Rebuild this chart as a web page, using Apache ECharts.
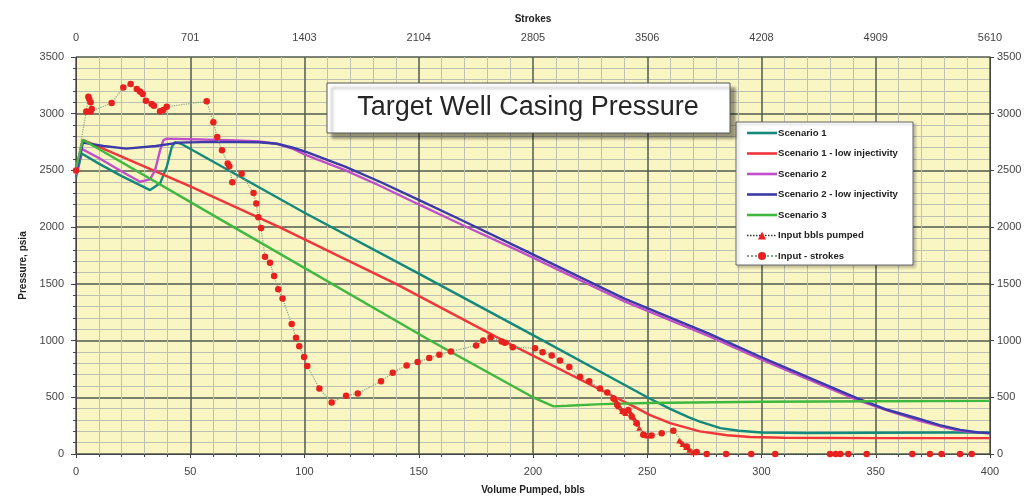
<!DOCTYPE html>
<html>
<head>
<meta charset="utf-8">
<script src="https://cdn.jsdelivr.net/npm/echarts@6/dist/echarts.min.js"></script>
<style>
html,body{margin:0;padding:0;background:#fff;}
#chart{width:1028px;height:500px;}
</style>
</head>
<body>
<div id="chart"></div>
<script>
// ---- data (x = volume pumped, bbls; y = pressure, psia) ----
const strokeTicks = [0, 701, 1403, 2104, 2805, 3506, 4208, 4909, 5610];

const scenario1 = [[0,2440],[2.5,2650],[10,2560],[20,2450],[28,2370],[32.4,2327],[36.8,2386],[39.7,2531],[41.9,2706],[43.3,2750],[46,2735],
  [100,2127],[150,1590],[200,1048],[250,500],[260,398],[268,325],[273,286],[282,228],[290,205],[300,190],[320,185],[350,188],[380,190],[400,190]];

const scenario1Low = [[0,2500],[3,2770],[50,2360],[89,2000],[140,1500],[187,1000],[236,500],[244,420],[251,345],[260,272],[273,200],[285,165],[295,150],[310,143],[350,140],[400,140]];

const scenario2 = [[0,2460],[2.5,2690],[10,2610],[20,2490],[28,2400],[32.4,2421],[34.6,2502],[36.8,2677],[38.2,2765],[39.5,2780],[50,2775],[70,2765],[80,2755],[88,2735],[95,2690],
  [101,2633],[118,2500],[133,2365],[150,2200],[170,2010],[194,1788],[240,1345],[277,1040],[299,840],[342,475],[355,385],[368,300],[378,245],[387,205],[395,188],[400,182]];

const scenario2Low = [[0,2480],[3,2745],[12,2715],[22,2692],[35,2715],[45,2745],[60,2752],[80,2748],[88,2735],[95,2700],
  [101,2662],[118,2531],[133,2400],[150,2240],[170,2050],[194,1817],[240,1370],[277,1062],[299,860],[342,490],[355,390],[368,315],[378,255],[387,213],[395,190],[400,184]];

const scenario3 = [[0,2520],[3,2770],[69,2000],[155,1000],[200,500],[209,420],[215,425],[230,440],[250,450],[300,460],[350,465],[400,468]];

const inputBbls = [[236,480],[237.5,420],[239,378],[240.5,362],[242,385],[243.5,330],[245,282],[246.5,232],[248,182],[250,162],null,
  [264,118],[265.5,88],[267,62],[268.5,38],[270,16]];

const inputStrokes = [[0,2500],[4.5,3020],[5.4,3150],[5.8,3130],[6.4,3100],[6.9,3042],[6.4,3020],[15.6,3094],[20.7,3231],[23.9,3261],[26.6,3217],[28,3196],[29.2,3173],
  [30.6,3115],[33.1,3086],[34.1,3071],[36.8,3021],[38.2,3033],[39.7,3062],[57.2,3109],[60.1,2925],[61.8,2794],[63.9,2677],[66.4,2560],[67.1,2537],[68.4,2395],
  [72.5,2470],[77.7,2300],[78.9,2208],[79.8,2088],[81,1992],[82.7,1738],[84.9,1686],[86.7,1569],[88.5,1452],[90.4,1371],[94.4,1146],[96.3,1025],[97.7,951],
  [99.8,855],[101.2,776],[106.5,577],[111.9,455],[118.2,513],[123.3,534],[133.5,641],[138.6,717],[144.7,781],[149.5,811],[154.6,846],[159,875],[164.1,904],
  [175.1,956],[178.2,1000],[181.5,1029],[186.3,991],[187.7,980],[191.1,942],[200.9,933],[204.2,898],[208.2,869],[211.8,825],[215.9,767],[220.6,680],
  [224.6,641],[229.3,577],[232.5,542],[235.2,490],[236.9,431],[239.5,374],[241.7,388],[243.2,330],[245.4,271],[248.3,169],[251.9,164],[256.3,184],[261.4,204],
  [267.3,67],[271.6,17],[276,0],[284.5,0],[295.5,0],[306,0],[330,0],[332.5,0],[334.5,0],[338,0],[346,0],[366,0],[373.7,0],[378.8,0],[386.9,0],[392,0]];

// ---- chart ----
const FONT = '"Liberation Sans", Arial, sans-serif';
const chart = echarts.init(document.getElementById('chart'), null, {renderer: 'canvas'});
const axisTxt = {color: '#444', fontSize: 11, fontFamily: FONT, formatter: v => String(v)};
const nameTxt = {color: '#222', fontSize: 10, fontWeight: 'bold', fontFamily: FONT};
const majorSplit = {show: true, lineStyle: {color: '#4f5a4f', width: 1.5}};
const minorSplit = {show: true, lineStyle: {color: '#bec1b0', width: 1}};
const LINE_ICON = 'path://M0,0L30,0L30,2.6L0,2.6Z';

function lineSeries(name, data, color) {
  return {name, type: 'line', data, xAxisIndex: 0, yAxisIndex: 0, symbol: 'none', showSymbol: false,
    lineStyle: {color, width: 2.4}, itemStyle: {color}, z: 3};
}

chart.setOption({
  animation: false,
  backgroundColor: '#ffffff',
  grid: {left: 76, right: 38, top: 57, bottom: 44, show: true, backgroundColor: '#faf6c4', borderWidth: 0},
  xAxis: [
    {type: 'value', position: 'bottom', min: 0, max: 400, interval: 50,
      name: 'Volume Pumped, bbls', nameLocation: 'middle', nameGap: 31, nameTextStyle: nameTxt,
      axisLine: {show: true, onZero: false, lineStyle: {color: '#444', width: 1}},
      axisTick: {show: true, length: 4, lineStyle: {color: '#444'}},
      minorTick: {show: true, splitNumber: 5, length: 3, lineStyle: {color: '#444'}},
      axisLabel: Object.assign({}, axisTxt, {margin: 12}),
      splitLine: majorSplit, minorSplitLine: minorSplit},
    {type: 'value', position: 'top', min: 0, max: 5610, interval: 701.25,
      name: 'Strokes', nameLocation: 'middle', nameGap: 33, nameTextStyle: nameTxt,
      axisLine: {show: true, lineStyle: {color: '#444', width: 1}},
      axisTick: {show: false},
      axisLabel: Object.assign({}, axisTxt, {margin: 14, formatter: (v, i) => String(strokeTicks[i] !== undefined ? strokeTicks[i] : Math.round(v))}),
      splitLine: {show: false}}
  ],
  yAxis: [
    {type: 'value', position: 'left', min: 0, max: 3500, interval: 500,
      name: 'Pressure, psia', nameLocation: 'middle', nameGap: 44, nameRotate: 90, nameTextStyle: Object.assign({padding: [0, 0, 0, -20]}, nameTxt),
      axisLine: {show: true, onZero: false, lineStyle: {color: '#444', width: 1}},
      axisTick: {show: true, length: 5, lineStyle: {color: '#444'}},
      minorTick: {show: true, splitNumber: 5, length: 3, lineStyle: {color: '#444'}},
      axisLabel: Object.assign({}, axisTxt, {margin: 12}),
      splitLine: majorSplit, minorSplitLine: minorSplit},
    {type: 'value', position: 'right', min: 0, max: 3500, interval: 500,
      axisLine: {show: true, onZero: false, lineStyle: {color: '#444', width: 1}},
      axisTick: {show: true, length: 4, lineStyle: {color: '#444'}},
      axisLabel: Object.assign({}, axisTxt, {margin: 7}),
      splitLine: {show: false}}
  ],
  legend: {
    orient: 'vertical', left: 746, top: 128, padding: 0, itemWidth: 30, itemHeight: 10, itemGap: 10.5,
    z: 20,
    textStyle: {fontSize: 9.6, fontWeight: 'bold', color: '#222', fontFamily: FONT, lineHeight: 10, padding: [0, 0, 0, -4]},
    data: [
      {name: 'Scenario 1', icon: LINE_ICON},
      {name: 'Scenario 1 - low injectivity', icon: LINE_ICON},
      {name: 'Scenario 2', icon: LINE_ICON},
      {name: 'Scenario 2 - low injectivity', icon: LINE_ICON},
      {name: 'Scenario 3', icon: LINE_ICON},
      {name: 'Input bbls pumped', lineStyle: {color: '#333', type: 'dotted', width: 1.5}},
      'Input - strokes'
    ]
  },
  graphic: [
    {type: 'rect', z: 15, shape: {x: 736, y: 122, width: 177, height: 143},
      style: {fill: '#ffffff', stroke: '#6a6a6a', lineWidth: 1, shadowBlur: 3, shadowOffsetX: 2, shadowOffsetY: 2, shadowColor: 'rgba(0,0,0,0.25)'}},
    {type: 'rect', z: 15, shape: {x: 327, y: 83, width: 403, height: 50},
      style: {fill: '#ffffff', stroke: '#555', lineWidth: 1, shadowBlur: 3, shadowOffsetX: 5, shadowOffsetY: 5, shadowColor: 'rgba(0,0,0,0.4)'}},
    {type: 'text', z: 16, x: 528, y: 108,
      style: {text: 'Target Well Casing Pressure', fill: '#262626', fontSize: 27, fontFamily: FONT, textAlign: 'center', textVerticalAlign: 'middle'}}
  ],
  series: [
    lineSeries('Scenario 1', scenario1, '#13897c'),
    lineSeries('Scenario 1 - low injectivity', scenario1Low, '#f0363a'),
    lineSeries('Scenario 2', scenario2, '#bf4fca'),
    lineSeries('Scenario 2 - low injectivity', scenario2Low, '#3b3aa6'),
    lineSeries('Scenario 3', scenario3, '#3fb83f'),
    {name: 'Input bbls pumped', type: 'line', data: inputBbls, xAxisIndex: 0, yAxisIndex: 0,
      symbol: 'triangle', symbolSize: 6, showSymbol: true, connectNulls: false,
      lineStyle: {color: '#e8201e', width: 4, type: 'dashed'}, itemStyle: {color: '#e8201e'}, z: 4},
    {name: 'Input - strokes', type: 'line', data: inputStrokes, xAxisIndex: 0, yAxisIndex: 0,
      symbol: 'circle', symbolSize: 6.5, showSymbol: true,
      lineStyle: {color: '#86a486', width: 1.2, type: 'dotted'}, itemStyle: {color: '#e8201e'}, z: 5}
  ]
});
</script>
</body>
</html>
